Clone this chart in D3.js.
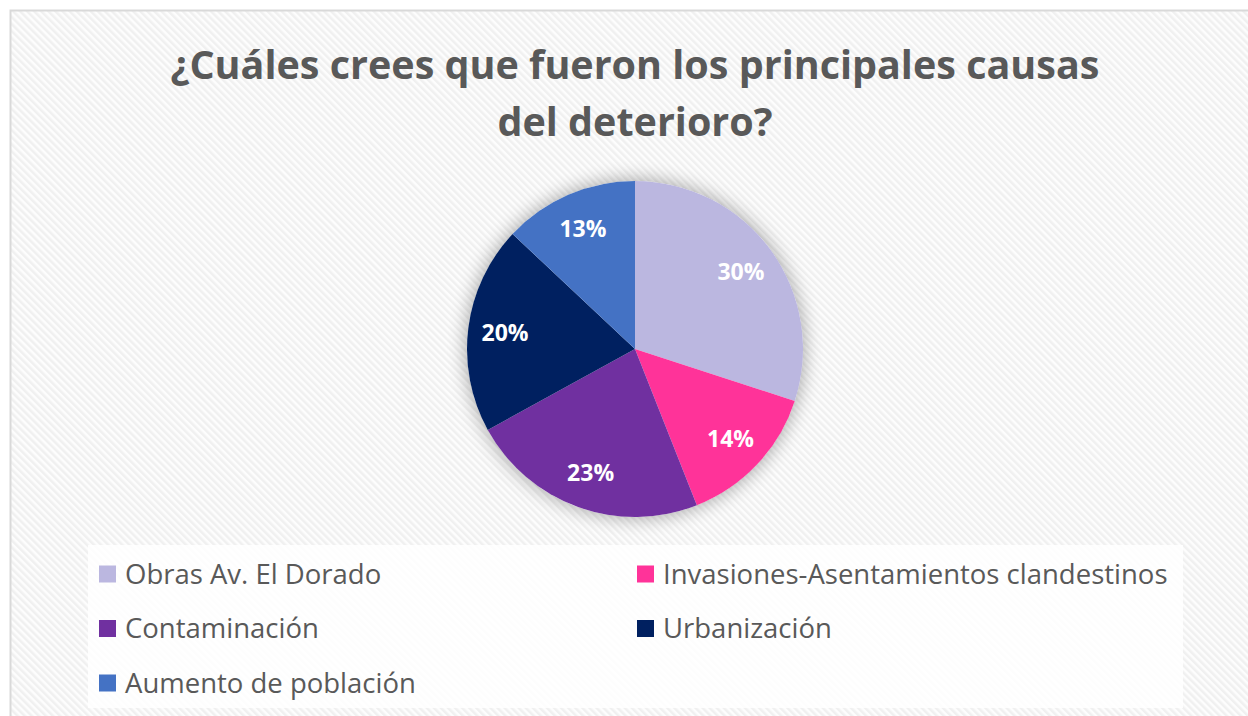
<!DOCTYPE html>
<html>
<head>
<meta charset="utf-8">
<script src="https://cdn.jsdelivr.net/npm/d3@7"></script>
<style>
  html, body { margin: 0; padding: 0; background: #fff; }
  svg { display: block; }
</style>
</head>
<body>
<div id="chart"></div>
<script>
// datos
const titleLines = ['¿Cuáles crees que fueron los principales causas', 'del deterioro?'];
const categories = ['Obras Av. El Dorado', 'Invasiones-Asentamientos clandestinos', 'Contaminación', 'Urbanización', 'Aumento de población'];
const values = [30, 14, 23, 20, 13];
const colors = ['#BBB7E0', '#FF3399', '#7030A0', '#002060', '#4472C4'];

const width = 1248, height = 716;
const font = '"Open Sans", Lato, sans-serif';
const svg = d3.select('#chart').append('svg').attr('width', width).attr('height', height);
const defs = svg.append('defs');

// fondo rayado diagonal
const pat = defs.append('pattern').attr('id', 'stripes').attr('patternUnits', 'userSpaceOnUse')
  .attr('width', 5).attr('height', 5).attr('patternTransform', 'rotate(-45)');
pat.append('rect').attr('width', 5).attr('height', 5).attr('fill', '#fdfdfd');
pat.append('rect').attr('width', 2.5).attr('height', 5).attr('fill', '#f0f0f0');

const shadow = defs.append('filter').attr('id', 'glow').attr('x', '-30%').attr('y', '-30%').attr('width', '160%').attr('height', '160%');
shadow.append('feGaussianBlur').attr('in', 'SourceAlpha').attr('stdDeviation', 9);

svg.append('rect').attr('x', 10.5).attr('y', 10.5).attr('width', width).attr('height', height)
  .attr('fill', 'url(#stripes)').attr('stroke', '#d9d9d9').attr('stroke-width', 2);

// titulo
svg.append('g').selectAll('text').data(titleLines).enter().append('text')
  .attr('x', 635).attr('y', (d, i) => 79 + i * 57)
  .attr('text-anchor', 'middle')
  .attr('font-family', font).attr('font-weight', 'bold')
  .attr('font-size', 39.5).attr('fill', '#595959')
  .text(d => d);

// torta
const cx = 635, cy = 349, r = 168;
const pie = d3.pie().sort(null).value(d => d);
const arcs = pie(values);
const arc = d3.arc().innerRadius(0).outerRadius(r);
const labelArc = d3.arc().innerRadius(131).outerRadius(131);

const g = svg.append('g').attr('transform', `translate(${cx},${cy})`);
g.append('circle').attr('r', r + 2).attr('fill', '#000').attr('opacity', 0.3).attr('filter', 'url(#glow)');
g.append('circle').attr('r', r).attr('fill', '#fff');
g.selectAll('path.slice').data(arcs).enter().append('path')
  .attr('class', 'slice')
  .attr('d', arc)
  .attr('fill', (d, i) => colors[i]);

g.selectAll('text.lbl').data(arcs).enter().append('text')
  .attr('class', 'lbl')
  .attr('transform', d => `translate(${labelArc.centroid(d)})`)
  .attr('dy', '0.36em')
  .attr('text-anchor', 'middle')
  .attr('font-family', font).attr('font-weight', 'bold')
  .attr('font-size', 23).attr('fill', '#fff')
  .text(d => d.data + '%');

// leyenda
svg.append('rect').attr('x', 88).attr('y', 545).attr('width', 1095).attr('height', 163).attr('fill', '#fff').attr('opacity', 0.85);
const leg = svg.append('g').selectAll('g').data(categories).enter().append('g')
  .attr('transform', (d, i) => `translate(${i % 2 === 0 ? 99 : 637},${574 + Math.floor(i / 2) * 54.5})`);
leg.append('rect').attr('x', 0).attr('y', -8.5).attr('width', 17).attr('height', 17)
  .attr('fill', (d, i) => colors[i]);
leg.append('text').attr('x', 26).attr('y', 0).attr('dy', '0.36em')
  .attr('font-family', font).attr('font-size', 27.5).attr('fill', '#595959')
  .text(d => d);
</script>
</body>
</html>
